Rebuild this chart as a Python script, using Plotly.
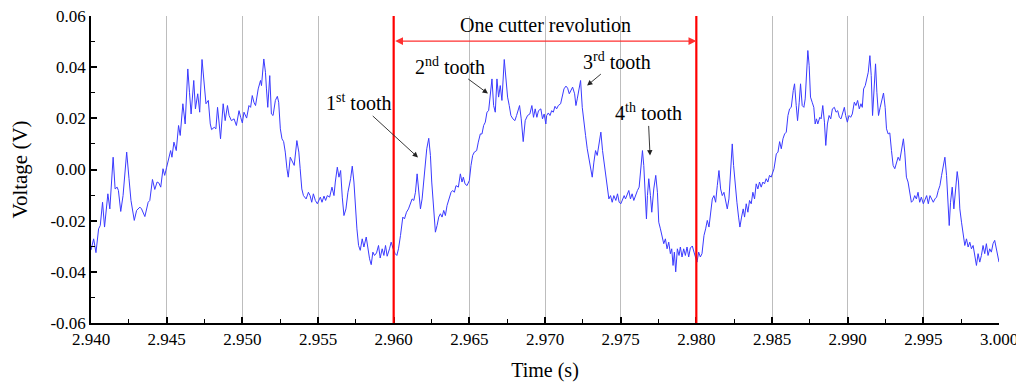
import plotly.graph_objects as go

# ---- data: four 15 ms segments (offset ms, volts) ----
seg_starts = [2.940, 2.955, 2.970, 2.985]

seg1_ms = [0.000, 0.175, 0.328, 0.502, 0.611, 0.764, 0.895, 1.114, 1.245, 1.463, 1.594, 1.725, 1.812, 1.965,
           2.118, 2.358, 2.511, 2.642, 2.860, 3.013, 3.231, 3.341, 3.559, 3.777, 3.886, 4.061, 4.214, 4.367,
           4.476, 4.607, 4.760, 4.869, 5.000, 5.153, 5.262, 5.349, 5.480, 5.633, 5.786, 5.895, 6.070, 6.223,
           6.397, 6.507, 6.616, 6.790, 6.900, 7.052, 7.183, 7.336, 7.489, 7.598, 7.751, 7.882, 7.969, 8.144,
           8.253, 8.362, 8.472, 8.559, 8.734, 8.865, 9.017, 9.127, 9.279, 9.454, 9.607, 9.782, 9.891, 10.000,
           10.109, 10.284, 10.437, 10.546, 10.655, 10.764, 10.873, 10.983, 11.048, 11.201, 11.266, 11.419,
           11.528, 11.594, 11.681, 11.812, 11.921, 12.031, 12.183, 12.314, 12.402, 12.511, 12.620, 12.729,
           12.838, 12.948, 13.035, 13.166, 13.297, 13.428, 13.603, 13.734, 13.821, 13.930, 14.039, 14.214,
           14.367, 14.476, 14.585, 14.694, 14.825, 14.956]
seg1_v = [-0.0315, -0.0271, -0.0325, -0.0232, -0.0219, -0.0128, -0.0225, -0.0095, -0.0154, 0.0048, -0.0076,
          -0.0069, -0.0082, -0.0164, -0.0102, 0.0068, -0.0036, -0.0121, -0.0199, -0.0160, -0.0147, -0.0154,
          -0.0184, -0.0128, -0.0121, -0.0039, -0.0078, -0.0049, -0.0052, -0.0069, 0.0003, -0.0023, 0.0009,
          0.0042, 0.0074, 0.0048, 0.0107, 0.0074, 0.0172, 0.0133, 0.0257, 0.0178, 0.0393, 0.0302, 0.0217,
          0.0348, 0.0237, 0.0296, 0.0224, 0.0430, 0.0315, 0.0257, 0.0270, 0.0178, 0.0156, 0.0165, 0.0159,
          0.0243, 0.0178, 0.0120, 0.0257, 0.0191, 0.0250, 0.0211, 0.0191, 0.0198, 0.0172, 0.0230, 0.0204,
          0.0182, 0.0224, 0.0201, 0.0250, 0.0243, 0.0289, 0.0263, 0.0250, 0.0302, 0.0315, 0.0348, 0.0328,
          0.0432, 0.0380, 0.0315, 0.0243, 0.0367, 0.0217, 0.0211, 0.0270, 0.0286, 0.0263, 0.0159, 0.0120,
          0.0109, 0.0068, 0.0003, -0.0030, 0.0048, 0.0031, 0.0016, 0.0113, 0.0068, 0.0003, -0.0076, -0.0102,
          -0.0115, -0.0089, -0.0102, -0.0128, -0.0095, -0.0121, -0.0134]

seg2_ms = [0.154, 0.264, 0.396, 0.505, 0.615, 0.769, 0.923, 1.055, 1.143, 1.275, 1.385, 1.495, 1.604, 1.714,
           1.846, 1.978, 2.154, 2.264, 2.374, 2.462, 2.571, 2.681, 2.791, 2.923, 3.033, 3.187, 3.297, 3.407,
           3.516, 3.626, 3.736, 3.868, 4.000, 4.110, 4.242, 4.352, 4.462, 4.571, 4.725, 4.835, 4.967, 5.099,
           5.209, 5.319, 5.451, 5.604, 5.714, 5.846, 5.978, 6.110, 6.220, 6.330, 6.440, 6.549, 6.659, 6.769,
           6.879, 7.033, 7.187, 7.319, 7.429, 7.516, 7.648, 7.758, 7.868, 7.978, 8.088, 8.198, 8.308, 8.418,
           8.527, 8.681, 8.791, 8.901, 9.011, 9.121, 9.275, 9.407, 9.516, 9.604, 9.714, 9.846, 10.000, 10.110,
           10.220, 10.330, 10.484, 10.593, 10.725, 10.835, 10.945, 11.055, 11.165, 11.275, 11.385, 11.495,
           11.604, 11.714, 11.824, 11.934, 12.044, 12.154, 12.308, 12.418, 12.527, 12.637, 12.747, 12.879,
           13.011, 13.121, 13.231, 13.319, 13.429, 13.560, 13.692, 13.846, 14.000, 14.132, 14.242, 14.352,
           14.462, 14.571, 14.725, 14.835, 14.945, 15.055]
seg2_v = [-0.0108, -0.0128, -0.0104, -0.0121, -0.0102, -0.0108, -0.0069, -0.0102, -0.0049, 0.0009, -0.0030,
          -0.0004, -0.0108, -0.0180, -0.0154, -0.0089, -0.0036, 0.0013, -0.0049, -0.0141, -0.0232, -0.0297,
          -0.0316, -0.0271, -0.0303, -0.0264, -0.0310, -0.0349, -0.0372, -0.0323, -0.0336, -0.0326, -0.0297,
          -0.0346, -0.0310, -0.0336, -0.0297, -0.0339, -0.0310, -0.0284, -0.0310, -0.0329, -0.0336, -0.0310,
          -0.0258, -0.0186, -0.0193, -0.0167, -0.0154, -0.0134, -0.0115, -0.0121, -0.0089, -0.0017, -0.0076,
          -0.0154, -0.0115, -0.0023, 0.0081, 0.0122, 0.0055, -0.0049, -0.0167, -0.0245, -0.0219, -0.0186,
          -0.0173, -0.0186, -0.0160, -0.0180, -0.0141, -0.0115, -0.0089, -0.0082, -0.0089, -0.0063, -0.0069,
          -0.0017, -0.0049, -0.0030, -0.0056, -0.0063, -0.0043, 0.0016, 0.0055, 0.0068, 0.0074, 0.0107,
          0.0139, 0.0139, 0.0172, 0.0185, 0.0224, 0.0230, 0.0296, 0.0354, 0.0250, 0.0224, 0.0354, 0.0283,
          0.0328, 0.0270, 0.0430, 0.0367, 0.0283, 0.0250, 0.0211, 0.0198, 0.0191, 0.0211, 0.0230, 0.0250,
          0.0198, 0.0109, 0.0191, 0.0211, 0.0217, 0.0250, 0.0204, 0.0237, 0.0204, 0.0230, 0.0237, 0.0198,
          0.0217, 0.0178]

seg3_ms = [0.110, 0.220, 0.330, 0.440, 0.549, 0.659, 0.769, 0.879, 1.033, 1.121, 1.253, 1.385, 1.495, 1.604,
           1.714, 1.824, 1.956, 2.044, 2.132, 2.242, 2.352, 2.462, 2.571, 2.681, 2.791, 2.901, 3.011, 3.121,
           3.231, 3.341, 3.451, 3.560, 3.692, 3.802, 3.912, 4.022, 4.132, 4.220, 4.330, 4.440, 4.549, 4.681,
           4.791, 4.901, 5.011, 5.121, 5.231, 5.319, 5.429, 5.538, 5.648, 5.758, 5.868, 6.000, 6.110, 6.220,
           6.330, 6.440, 6.527, 6.615, 6.703, 6.769, 6.857, 6.967, 7.055, 7.187, 7.319, 7.429, 7.516, 7.626,
           7.736, 7.846, 7.956, 8.066, 8.176, 8.286, 8.374, 8.462, 8.549, 8.637, 8.747, 8.857, 8.945, 9.055,
           9.165, 9.275, 9.385, 9.495, 9.604, 9.736, 9.846, 9.956, 10.044, 10.154, 10.264, 10.374, 10.505,
           10.615, 10.725, 10.835, 10.945, 11.055, 11.165, 11.275, 11.385, 11.495, 11.604, 11.714, 11.824,
           11.934, 12.044, 12.154, 12.264, 12.374, 12.462, 12.571, 12.681, 12.791, 12.879, 12.989, 13.099,
           13.187, 13.297, 13.407, 13.516, 13.626, 13.736, 13.846, 13.956, 14.066, 14.176, 14.286, 14.396,
           14.505, 14.615, 14.725, 14.835, 14.945]
seg3_v = [0.0211, 0.0221, 0.0211, 0.0230, 0.0224, 0.0247, 0.0237, 0.0250, 0.0257, 0.0276, 0.0315, 0.0326,
          0.0318, 0.0296, 0.0309, 0.0322, 0.0296, 0.0250, 0.0276, 0.0315, 0.0348, 0.0243, 0.0198, 0.0133,
          0.0081, 0.0048, 0.0003, -0.0030, 0.0029, 0.0074, 0.0055, 0.0094, 0.0146, 0.0074, 0.0022, -0.0023,
          -0.0089, -0.0115, -0.0102, -0.0128, -0.0102, -0.0121, -0.0095, -0.0128, -0.0134, -0.0121, -0.0102,
          -0.0115, -0.0099, -0.0082, -0.0115, -0.0095, -0.0121, -0.0095, -0.0082, -0.0069, 0.0003, 0.0074,
          0.0016, -0.0102, -0.0193, -0.0102, -0.0036, -0.0102, -0.0167, -0.0076, -0.0023, -0.0089, -0.0206,
          -0.0232, -0.0258, -0.0290, -0.0271, -0.0310, -0.0284, -0.0329, -0.0310, -0.0375, -0.0323, -0.0400,
          -0.0310, -0.0336, -0.0303, -0.0342, -0.0310, -0.0336, -0.0303, -0.0342, -0.0307, -0.0299, -0.0323,
          -0.0342, -0.0362, -0.0323, -0.0342, -0.0329, -0.0258, -0.0232, -0.0199, -0.0225, -0.0167, -0.0115,
          -0.0102, -0.0128, -0.0063, -0.0004, -0.0076, -0.0102, -0.0089, -0.0128, -0.0154, -0.0115, 0.0003,
          0.0100, 0.0016, -0.0076, -0.0128, -0.0186, -0.0225, -0.0186, -0.0154, -0.0186, -0.0134, -0.0167,
          -0.0121, -0.0134, -0.0089, -0.0115, -0.0056, -0.0076, -0.0049, -0.0069, -0.0049, -0.0056, -0.0036,
          -0.0049, -0.0023, -0.0030]

seg4_ms = [0.132, 0.285, 0.395, 0.504, 0.614, 0.724, 0.833, 0.943, 1.053, 1.162, 1.272, 1.404, 1.491, 1.601,
           1.689, 1.798, 1.886, 1.996, 2.105, 2.193, 2.281, 2.368, 2.456, 2.544, 2.654, 2.763, 2.851, 2.939,
           3.026, 3.158, 3.246, 3.355, 3.465, 3.553, 3.662, 3.772, 3.882, 3.991, 4.123, 4.232, 4.342, 4.452,
           4.561, 4.671, 4.781, 4.868, 4.978, 5.088, 5.197, 5.307, 5.439, 5.548, 5.658, 5.768, 5.877, 5.965,
           6.053, 6.162, 6.272, 6.360, 6.469, 6.557, 6.645, 6.732, 6.842, 6.930, 7.039, 7.149, 7.281, 7.368,
           7.478, 7.566, 7.675, 7.785, 7.895, 8.004, 8.114, 8.224, 8.333, 8.443, 8.553, 8.684, 8.772, 8.882,
           8.991, 9.101, 9.211, 9.320, 9.430, 9.539, 9.649, 9.759, 9.868, 10.000, 10.110, 10.219, 10.329,
           10.439, 10.548, 10.658, 10.768, 10.877, 10.987, 11.096, 11.206, 11.316, 11.425, 11.535, 11.645,
           11.711, 11.798, 11.908, 12.018, 12.127, 12.237, 12.325, 12.412, 12.522, 12.632, 12.741, 12.851,
           12.961, 13.070, 13.180, 13.289, 13.399, 13.509, 13.618, 13.728, 13.838, 13.947, 14.057, 14.167,
           14.276, 14.386, 14.496, 14.605, 14.715, 14.825, 15.000]
seg4_v = [0.0003, 0.0061, 0.0068, 0.0109, 0.0081, 0.0120, 0.0139, 0.0146, 0.0211, 0.0237, 0.0243, 0.0309,
          0.0335, 0.0250, 0.0191, 0.0263, 0.0335, 0.0250, 0.0243, 0.0276, 0.0361, 0.0465, 0.0406, 0.0283,
          0.0263, 0.0243, 0.0178, 0.0198, 0.0178, 0.0204, 0.0198, 0.0250, 0.0185, 0.0094, 0.0178, 0.0211,
          0.0198, 0.0237, 0.0243, 0.0224, 0.0230, 0.0204, 0.0198, 0.0224, 0.0243, 0.0211, 0.0185, 0.0211,
          0.0204, 0.0217, 0.0263, 0.0250, 0.0270, 0.0237, 0.0257, 0.0243, 0.0315, 0.0328, 0.0361, 0.0380,
          0.0445, 0.0367, 0.0211, 0.0296, 0.0413, 0.0302, 0.0211, 0.0243, 0.0276, 0.0299, 0.0243, 0.0159,
          0.0139, 0.0143, 0.0074, 0.0016, 0.0003, 0.0029, 0.0048, 0.0035, 0.0068, 0.0120, 0.0068, -0.0030,
          -0.0049, -0.0089, -0.0128, -0.0121, -0.0102, -0.0115, -0.0089, -0.0128, -0.0108, -0.0134, -0.0121,
          -0.0102, -0.0134, -0.0102, -0.0115, -0.0128, -0.0115, -0.0108, -0.0082, -0.0063, -0.0023, 0.0016,
          0.0048, -0.0023, -0.0193, -0.0219, -0.0128, -0.0069, -0.0154, -0.0063, -0.0008, -0.0049, -0.0154,
          -0.0206, -0.0258, -0.0297, -0.0271, -0.0303, -0.0284, -0.0310, -0.0297, -0.0336, -0.0375, -0.0329,
          -0.0362, -0.0336, -0.0297, -0.0329, -0.0290, -0.0336, -0.0310, -0.0323, -0.0290, -0.0277, -0.0310,
          -0.0362]

x_tick_vals = [2.940, 2.945, 2.950, 2.955, 2.960, 2.965, 2.970, 2.975, 2.980, 2.985, 2.990, 2.995, 3.000]
x_tick_text = ["2.940", "2.945", "2.950", "2.955", "2.960", "2.965", "2.970", "2.975", "2.980", "2.985",
               "2.990", "2.995", "3.000"]
y_tick_vals = [-0.06, -0.04, -0.02, 0.00, 0.02, 0.04, 0.06]
y_tick_text = ["-0.06", "-0.04", "-0.02", "0.00", "0.02", "0.04", "0.06"]

revolution_bounds = [2.960, 2.980]
revolution_label = "One cutter revolution"
tooth_labels = ["1<sup>st</sup> tooth", "2<sup>nd</sup> tooth", "3<sup>rd</sup> tooth", "4<sup>th</sup> tooth"]
tooth_time = [2.96161, 2.96623, 2.97278, 2.97694]
tooth_volt = [0.0047, 0.0297, 0.0328, 0.0055]

time_s = []
volt = []
for start, ms, v in zip(seg_starts, [seg1_ms, seg2_ms, seg3_ms, seg4_ms], [seg1_v, seg2_v, seg3_v, seg4_v]):
    time_s += [start + m / 1000.0 for m in ms]
    volt += v

FONT = "Liberation Serif"

fig = go.Figure()
fig.add_trace(go.Scatter(x=time_s, y=volt, mode="lines",
                         line=dict(color="#3a3aff", width=1), showlegend=False, hoverinfo="skip"))

# red revolution boundaries
for b in revolution_bounds:
    fig.add_shape(type="line", xref="x", yref="y", x0=b, x1=b, y0=-0.06, y1=0.06,
                  line=dict(color="#ff0000", width=2.2), layer="above")

# double-headed arrow
fig.add_annotation(x=revolution_bounds[1], y=0.0502, ax=revolution_bounds[0], ay=0.0502,
                   xref="x", yref="y", axref="x", ayref="y", text="", showarrow=True,
                   arrowhead=2, startarrowhead=2, arrowside="end+start", arrowsize=1.3, startarrowsize=1.3,
                   arrowwidth=1.2, arrowcolor="#ff3030")
fig.add_annotation(x=sum(revolution_bounds) / 2, y=0.0563, xref="x", yref="y", text=revolution_label,
                   showarrow=False, font=dict(family=FONT, size=20, color="black"))

offsets = [(-60, -55), (-38, -28), (30, -25), (-2, -43)]
for lab, tx, ty, (ox, oy) in zip(tooth_labels, tooth_time, tooth_volt, offsets):
    fig.add_annotation(x=tx, y=ty, xref="x", yref="y", text=lab, showarrow=True,
                       ax=ox, ay=oy, arrowhead=2, arrowsize=1.2, arrowwidth=0.9, arrowcolor="#222222",
                       font=dict(family=FONT, size=20, color="black"))

fig.update_xaxes(range=[2.94, 3.0], tickmode="array", tickvals=x_tick_vals, ticktext=x_tick_text,
                 showline=True, linecolor="black", linewidth=1.6, mirror=False,
                 ticks="inside", ticklen=6, tickwidth=1.5, tickcolor="black",
                 minor=dict(ticks="inside", ticklen=4, tickwidth=1.3, tickcolor="black", dtick=0.0025,
                            tick0=2.94, showgrid=False),
                 showgrid=True, gridcolor="#bdbdbd", gridwidth=1, zeroline=False,
                 ticklabeloverflow="allow",
                 tickfont=dict(family=FONT, size=17, color="black"),
                 title=dict(text="Time (s)", font=dict(family=FONT, size=20, color="black"), standoff=15))
fig.update_yaxes(range=[-0.06, 0.06], tickmode="array", tickvals=y_tick_vals, ticktext=y_tick_text,
                 showline=True, linecolor="black", linewidth=1.6, mirror=False,
                 ticks="inside", ticklen=6, tickwidth=1.5, tickcolor="black",
                 minor=dict(ticks="inside", ticklen=4, tickwidth=1.3, tickcolor="black", dtick=0.01,
                            tick0=0, showgrid=False),
                 showgrid=False, zeroline=False,
                 ticklabeloverflow="allow",
                 tickfont=dict(family=FONT, size=17, color="black"),
                 title=dict(text="Voltage (V)", font=dict(family=FONT, size=21, color="black"), standoff=19))

# the page body adds an 8 px offset; margins compensate so the plot area lands where the reference has it
fig.update_layout(width=1024, height=387, margin=dict(l=83, r=33, t=8, b=72, autoexpand=False),
                  plot_bgcolor="white", paper_bgcolor="white")

fig.write_html("out.html")
